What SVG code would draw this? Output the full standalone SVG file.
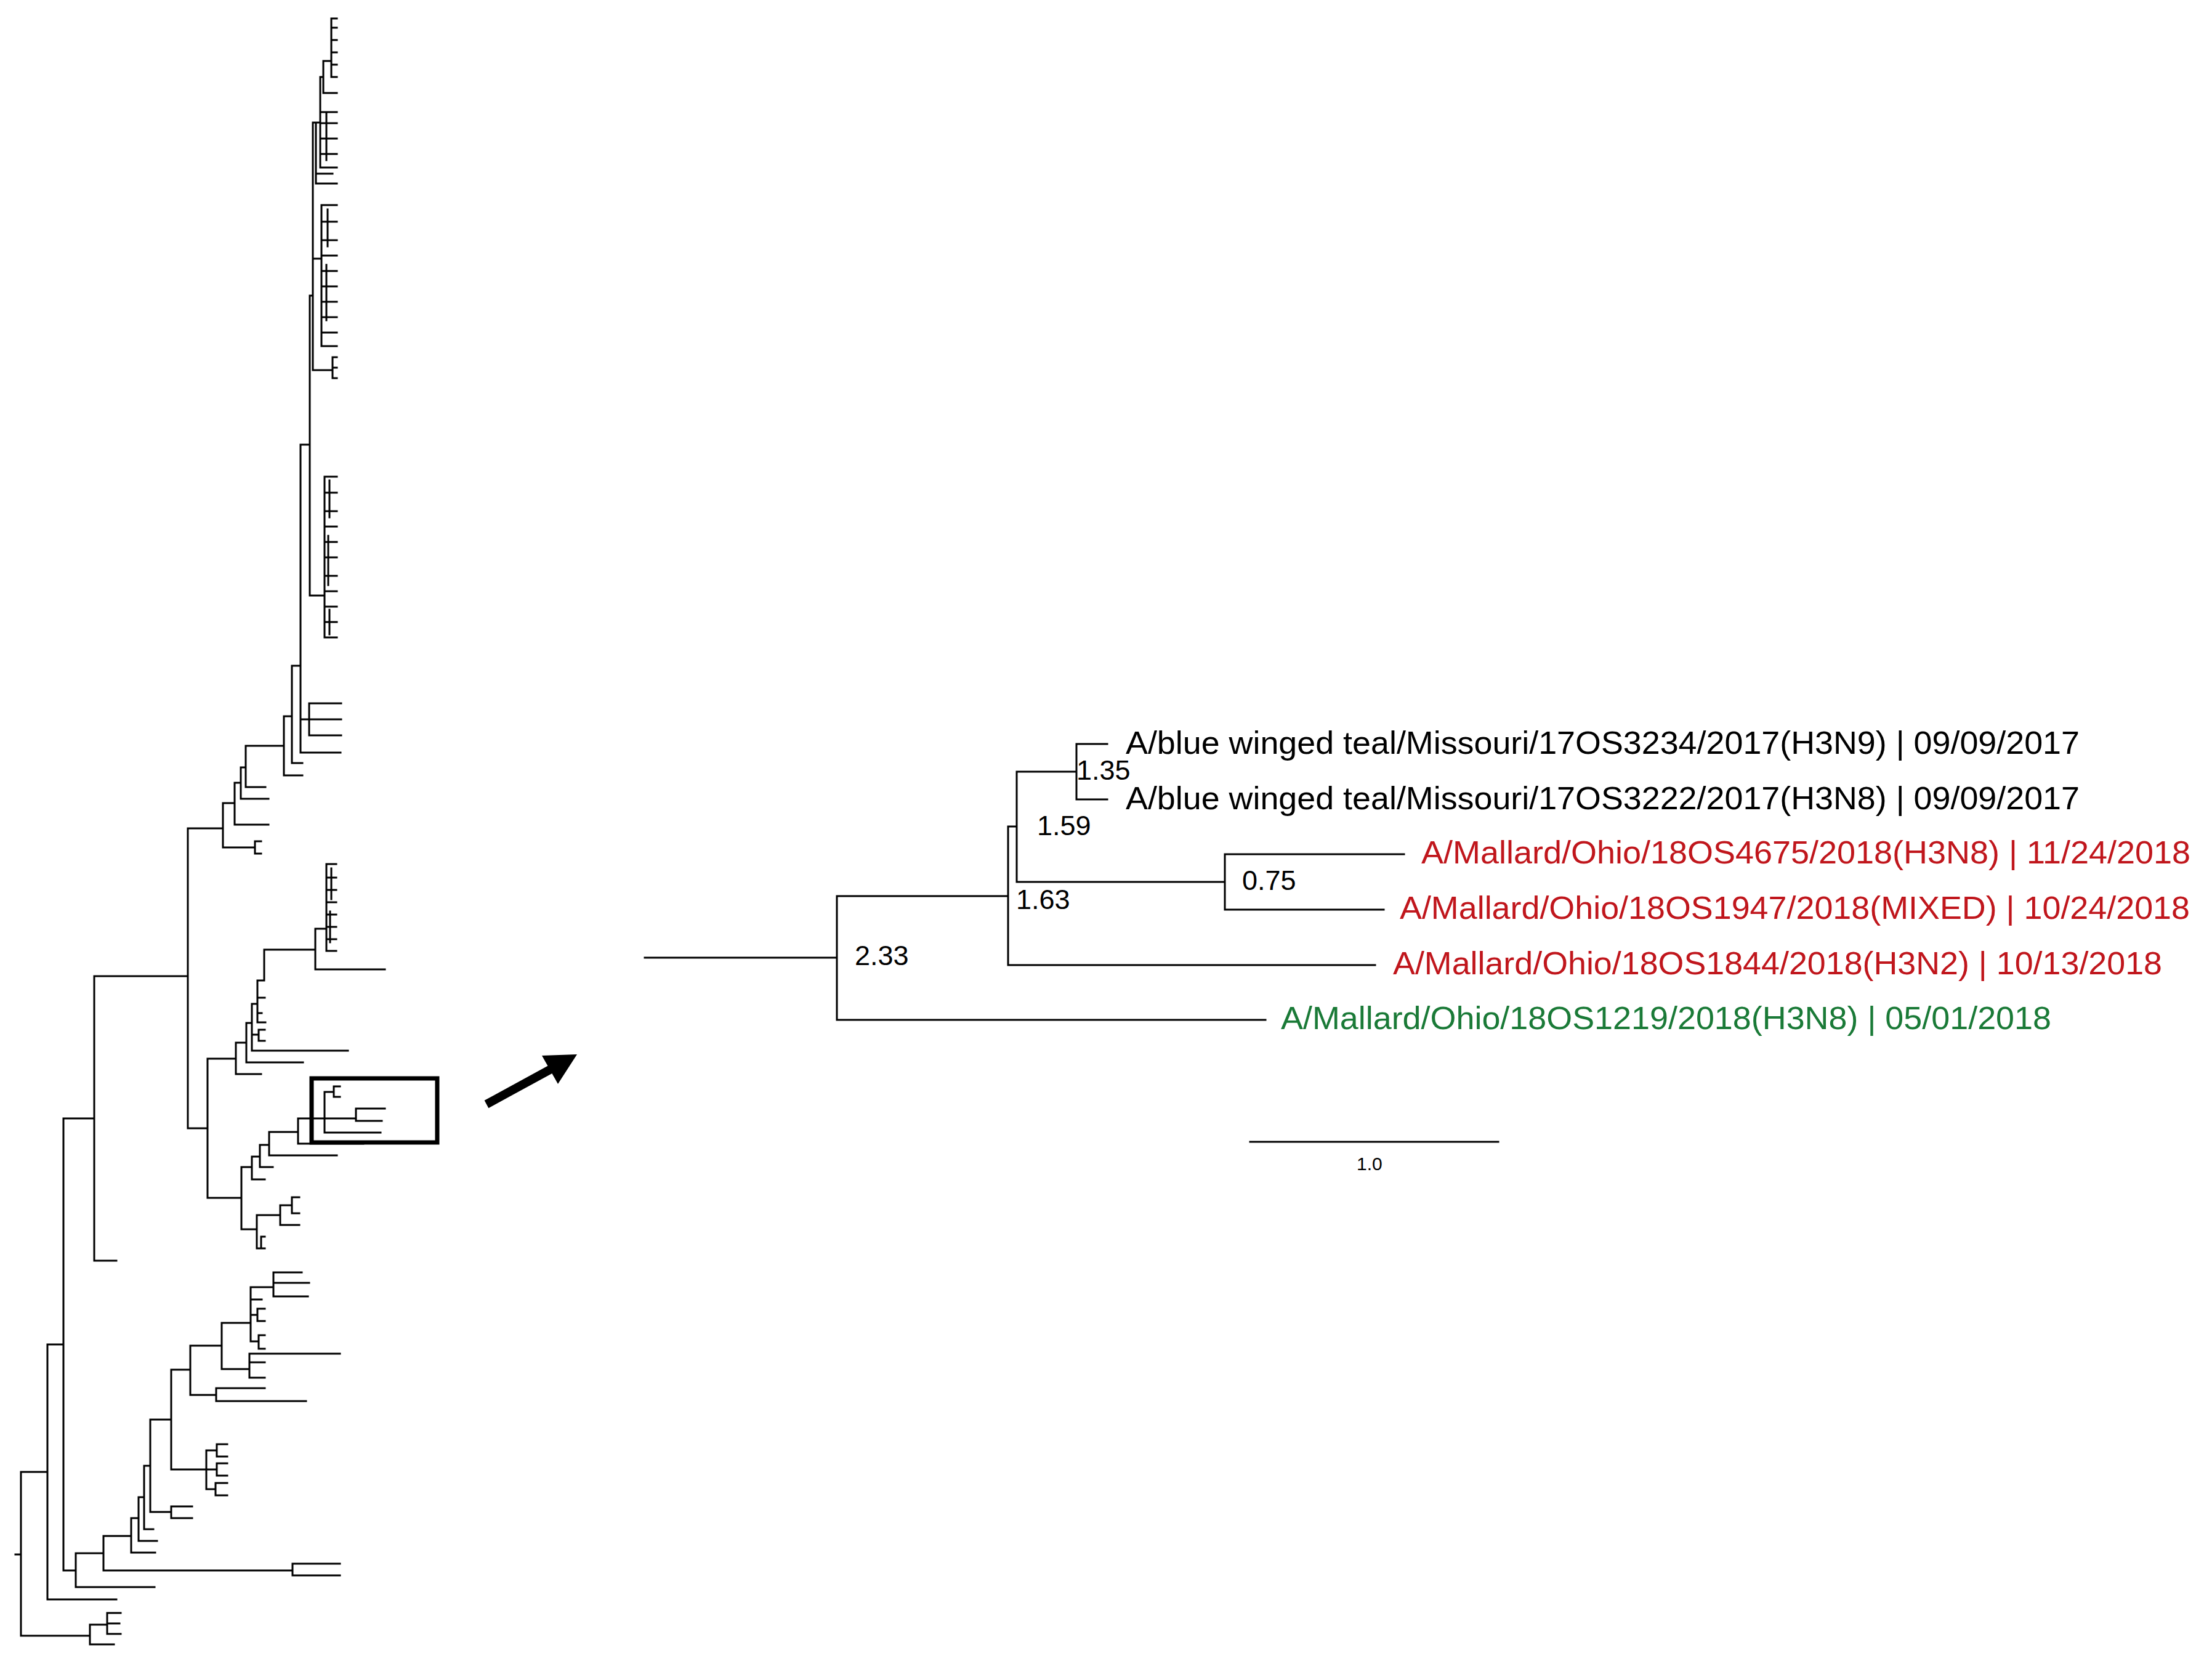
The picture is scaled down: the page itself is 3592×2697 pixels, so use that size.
<svg xmlns="http://www.w3.org/2000/svg" width="3592" height="2697" viewBox="0 0 3592 2697">
<style>
.t{fill:none;stroke:#000;stroke-width:3;stroke-linecap:square}
.lab{font-family:"Liberation Sans",Arial,sans-serif;font-size:52px}
.nl{font-family:"Liberation Sans",Arial,sans-serif;font-size:45px;fill:#000}
</style>
<rect width="3592" height="2697" fill="#fff"/>
<g id="left-tree" class="t">
<path d="M25,2524 H34 M34,2390 V2656 M34,2656 H146 M146,2638 V2670 M146,2670 H185 M146,2638 H174 M174,2619 V2653 M174,2619 H196 M174,2636 H194 M174,2653 H196
M34,2390 H77 M77,2183 V2597 M77,2597 H189 M77,2183 H103 M103,1816 V2550
M103,2550 H123 M123,2522 V2577 M123,2577 H251 M123,2522 H168 M168,2494 V2550 M168,2550 H475 M475,2539 V2558 M475,2539 H552 M475,2558 H552
M168,2494 H213 M213,2465 V2521 M213,2521 H252 M213,2465 H225 M225,2431 V2502 M225,2502 H255 M225,2431 H234 M234,2380 V2483 M234,2483 H249
M234,2380 H244 M244,2305 V2455 M244,2455 H278 M278,2446 V2465 M278,2446 H312 M278,2465 H312
M244,2305 H278 M278,2224 V2386 M278,2386 H335 M335,2355 V2418 M335,2355 H352 M352,2345 V2365 M352,2345 H369 M352,2365 H369 M335,2386 H352 M352,2376 V2396 M352,2376 H369 M352,2396 H369 M335,2418 H350 M350,2408 V2428 M350,2408 H369 M350,2428 H369
M278,2224 H309 M309,2185 V2265 M309,2265 H351 M351,2254 V2275 M351,2254 H430 M351,2275 H497
M309,2185 H360 M360,2148 V2223 M360,2223 H405 M405,2198 V2237 M405,2198 H552 M405,2212 H430 M405,2237 H430
M360,2148 H407 M407,2090 V2178 M407,2178 H420 M420,2168 V2190 M420,2168 H430 M420,2190 H430 M407,2135 H418 M418,2125 V2145 M418,2125 H430 M418,2145 H430 M407,2110 H425
M407,2090 H444 M444,2066 V2105 M444,2066 H490 M444,2083 H502 M444,2105 H500
M103,1816 H153 M153,1585 V2047 M153,2047 H189 M153,1585 H305 M305,1345 V1832
M305,1832 H337 M337,1719 V1945
M337,1945 H392 M392,1895 V1996 M392,1996 H417 M417,1973 V2027 M417,1973 H455 M455,1957 V1989 M455,1989 H486 M455,1957 H474 M474,1944 V1970 M474,1944 H486 M474,1970 H486 M417,2027 H424 M424,2008 V2027 M424,2008 H430 M424,2027 H430
M392,1895 H409 M409,1878 V1915 M409,1915 H430 M409,1878 H422 M422,1859 V1895 M422,1895 H443 M422,1859 H437 M437,1838 V1876 M437,1876 H547 M437,1838 H484 M484,1816 V1857 M484,1857 H590
M484,1816 H527 M527,1773 V1839 M527,1839 H618 M527,1773 H542 M542,1764 V1781 M542,1764 H552 M542,1781 H552 M527,1816 H578 M578,1800 V1820 M578,1800 H625 M578,1820 H620
M337,1719 H383 M383,1693 V1744 M383,1744 H424 M383,1693 H400 M400,1661 V1725 M400,1725 H492 M400,1661 H409 M409,1630 V1706 M409,1706 H565 M409,1680 H420 M420,1672 V1690 M420,1672 H430 M420,1690 H430 M409,1630 H418 M418,1592 V1660 M418,1660 H431 M418,1645 H425 M418,1620 H430 M418,1592 H429 M429,1542 V1592 M429,1542 H512 M512,1508 V1574 M512,1574 H625 M512,1508 H530 M530,1403 V1544 M530,1544 H546 M530,1525 H546 M530,1505 H546 M530,1485 H546 M530,1465 H546 M530,1445 H546 M530,1425 H546 M530,1403 H546 M538,1410 V1460 M536,1480 V1530
M305,1345 H362 M362,1304 V1376 M362,1376 H414 M414,1366 V1386 M414,1366 H424 M414,1386 H424
M362,1304 H381 M381,1271 V1339 M381,1339 H436 M381,1271 H391 M391,1246 V1297 M391,1297 H436 M391,1246 H399 M399,1211 V1278 M399,1278 H431 M399,1211 H461 M461,1163 V1259 M461,1259 H491 M461,1163 H474 M474,1081 V1239 M474,1239 H491 M474,1081 H488 M488,722 V1222 M488,1222 H553 M488,1168 H502 M502,1142 V1194 M502,1142 H554 M502,1168 H554 M502,1194 H554
M488,722 H503 M503,480 V967 M503,967 H527 M527,774 V1035 M527,1035 H547 M527,1010 H547 M527,985 H547 M527,960 H547 M527,935 H547 M527,905 H547 M527,880 H547 M527,855 H547 M527,830 H547 M527,800 H547 M527,774 H547 M535,780 V840 M533,870 V950 M535,990 V1030
M503,480 H508 M508,199 V601 M508,601 H540 M540,580 V614 M540,580 H547 M540,597 H547 M540,614 H547
M508,420 H522 M522,333 V562 M522,562 H547 M522,540 H547 M522,515 H547 M522,490 H547 M522,465 H547 M522,440 H547 M522,415 H547 M522,390 H547 M522,360 H547 M522,333 H547 M532,340 V400 M530,430 V520
M508,199 H513 M513,199 V298 M513,298 H547 M513,282 H540 M513,199 H520 M520,125 V272 M520,272 H547 M520,250 H547 M520,225 H547 M520,200 H547 M520,182 H547 M530,182 V260 M520,125 H525 M525,99 V151 M525,151 H547 M525,99 H538 M538,30 V125 M538,125 H547 M538,105 H547 M538,85 H547 M538,65 H547 M538,45 H547 M538,30 H547"/>
</g>
<g id="box"><rect x="506" y="1751" width="204" height="104" fill="none" stroke="#000" stroke-width="7"/></g>
<g id="arrow">
<line x1="790" y1="1793" x2="900" y2="1733" stroke="#000" stroke-width="14"/>
<polygon points="937,1712 880,1714 906,1760" fill="#000"/>
</g>
<g id="connectors" class="t">
<path d="M1047,1555 H1359 M1359,1455 V1656 M1359,1656 H2055 M1359,1455 H1637 M1637,1342 V1567 M1637,1567 H2233 M1637,1342 H1651 M1651,1253 V1432 M1651,1253 H1748 M1748,1208 V1298 M1748,1208 H1798 M1748,1298 H1798 M1651,1432 H1989 M1989,1387 V1477 M1989,1387 H2280 M1989,1477 H2247"/>
<path d="M2030,1854 H2433"/>
</g>
<g id="leaf1"><text class="lab" x="1828" y="1224" fill="#000" textLength="1549" lengthAdjust="spacingAndGlyphs">A/blue winged teal/Missouri/17OS3234/2017(H3N9) | 09/09/2017</text></g>
<g id="leaf2"><text class="lab" x="1828" y="1314" fill="#000" textLength="1549" lengthAdjust="spacingAndGlyphs">A/blue winged teal/Missouri/17OS3222/2017(H3N8) | 09/09/2017</text></g>
<g id="leaf3"><text class="lab" x="2308" y="1402" fill="#c0161c" textLength="1249" lengthAdjust="spacingAndGlyphs">A/Mallard/Ohio/18OS4675/2018(H3N8) | 11/24/2018</text></g>
<g id="leaf4"><text class="lab" x="2273" y="1492" fill="#c0161c" textLength="1283" lengthAdjust="spacingAndGlyphs">A/Mallard/Ohio/18OS1947/2018(MIXED) | 10/24/2018</text></g>
<g id="leaf5"><text class="lab" x="2262" y="1582" fill="#c0161c" textLength="1249" lengthAdjust="spacingAndGlyphs">A/Mallard/Ohio/18OS1844/2018(H3N2) | 10/13/2018</text></g>
<g id="leaf6"><text class="lab" x="2080" y="1671" fill="#1a7a37" textLength="1251" lengthAdjust="spacingAndGlyphs">A/Mallard/Ohio/18OS1219/2018(H3N8) | 05/01/2018</text></g>
<g id="node-labels">
<text class="nl" x="1748" y="1266">1.35</text>
<text class="nl" x="1684" y="1356">1.59</text>
<text class="nl" x="1650" y="1476">1.63</text>
<text class="nl" x="2017" y="1445">0.75</text>
<text class="nl" x="1388" y="1567">2.33</text>
<text class="nl" x="2203" y="1900" style="font-size:30px">1.0</text>
</g>
</svg>
